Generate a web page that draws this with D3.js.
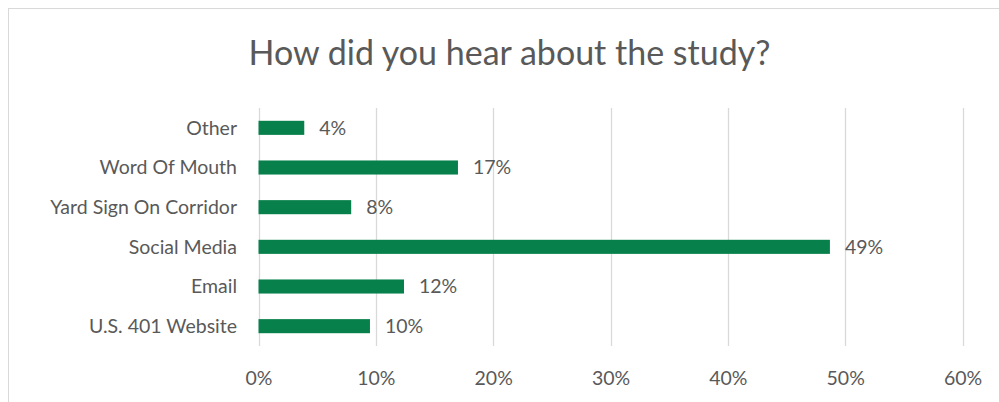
<!DOCTYPE html>
<html><head><meta charset="utf-8">
<script src="https://cdn.jsdelivr.net/npm/d3@7"></script>
<style>body{margin:0;background:#fff;} svg{display:block;} text{font-family:Lato,"Open Sans",sans-serif;fill:#595959;}</style>
</head><body><svg id="c" width="999" height="402"></svg>
<script>
const categories = ["Other","Word Of Mouth","Yard Sign On Corridor","Social Media","Email","U.S. 401 Website"];
const values = [0.039, 0.17, 0.079, 0.487, 0.124, 0.095];
const valueLabels = ["4%","17%","8%","49%","12%","10%"];
const tickValues = [0,0.1,0.2,0.3,0.4,0.5,0.6];
const title = "How did you hear about the study?";

const svg = d3.select("#c");
svg.append("rect").attr("x",8.5).attr("y",8.5).attr("width",1100).attr("height",500)
  .attr("fill","none").attr("stroke","#d9d9d9").attr("stroke-width",1);

const x = d3.scaleLinear().domain([0,0.6]).range([258.5,962.5]);
const y = d3.scaleBand().domain(categories).range([108,346]).paddingInner(0.645).paddingOuter(0.3225);

svg.append("text").attr("x",509.5).attr("y",64.5).attr("text-anchor","middle")
  .style("font-size","34px").text(title);

svg.append("g").selectAll("line").data(tickValues).join("line")
  .attr("x1",d=>Math.round(x(d))+0.5).attr("x2",d=>Math.round(x(d))+0.5)
  .attr("y1",108).attr("y2",346).attr("stroke","#d9d9d9").attr("stroke-width",1.3);

const xAxis = d3.axisBottom(x).tickValues(tickValues).tickFormat(d3.format(".0%")).tickSize(0).tickPadding(0);
const gx = svg.append("g").attr("transform","translate(0,385)").call(xAxis);
gx.select(".domain").remove();
gx.selectAll("text").style("font-size","19.5px").attr("dy","0").attr("fill","#595959");

const yAxis = d3.axisLeft(y).tickSize(0).tickPadding(21);
const gy = svg.append("g").attr("transform","translate(258,0)").call(yAxis);
gy.select(".domain").remove();
gy.selectAll("text").style("font-size","19.5px").attr("dy","0.35em").attr("fill","#595959");

svg.append("g").selectAll("rect").data(categories).join("rect")
  .attr("x",x(0)).attr("y",d=>y(d)).attr("height",y.bandwidth())
  .attr("width",(d,i)=>x(values[i])-x(0)).attr("fill","#07804b");

svg.append("g").selectAll("text").data(categories).join("text")
  .attr("x",(d,i)=>x(values[i])+15).attr("y",d=>y(d)+y.bandwidth()/2)
  .attr("dy","0.35em").style("font-size","19.5px").text((d,i)=>valueLabels[i]);
</script></body></html>
